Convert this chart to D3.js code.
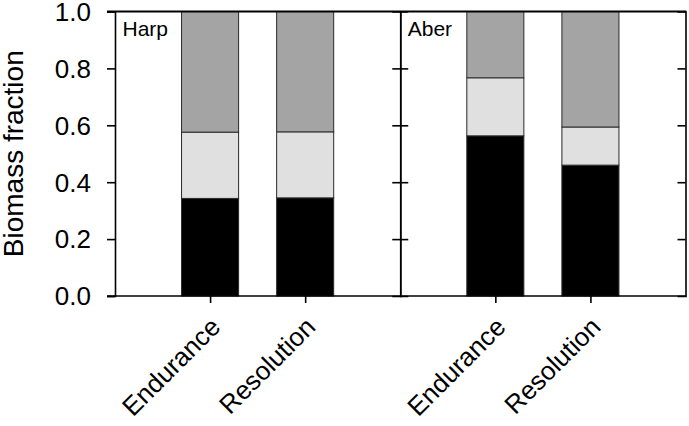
<!DOCTYPE html>
<html><head><meta charset="utf-8">
<script src="https://cdn.jsdelivr.net/npm/d3@7"></script>
<style>body{margin:0;background:#fff}svg{display:block}text{font-family:"Liberation Sans",Arial,sans-serif;fill:#000}</style>
</head><body><svg id="c" width="689" height="426"></svg>
<script>
const sites = ["Harp", "Aber"];
const treatments = ["Endurance", "Resolution"];
const components = ["black", "light", "grey"];
// fractions per bar: Harp-Endurance, Harp-Resolution, Aber-Endurance, Aber-Resolution
const blackFraction = [0.343, 0.345, 0.563, 0.460];
const lightFraction = [0.233, 0.232, 0.204, 0.134];
const greyFraction  = [0.424, 0.423, 0.233, 0.406];
const yTicks = [0, 0.2, 0.4, 0.6, 0.8, 1.0];
const colors = {black: "#000000", light: "#e0e0e0", grey: "#a4a4a4"};

const rows = [];
sites.forEach((s, i) => treatments.forEach((t, j) => {
  const k = i * treatments.length + j;
  rows.push({site: s, treatment: t, black: blackFraction[k], light: lightFraction[k], grey: greyFraction[k]});
}));

const svg = d3.select("#c");
const mLeft = 115, mRight = 685.5, mTop = 11.5, mBottom = 296;
const y = d3.scaleLinear().domain([0, 1]).range([mBottom, mTop]);
const xSite = d3.scaleBand().domain(sites).range([mLeft, mRight]);
const xTreat = d3.scalePoint().domain(treatments).range([0, xSite.bandwidth()]).padding(1);
const barW = xTreat.step() * 0.6;

const stack = d3.stack().keys(components)(rows);
const g = svg.append("g");
stack.forEach(layer => {
  g.selectAll(null).data(layer).enter().append("rect")
    .attr("x", d => xSite(d.data.site) + xTreat(d.data.treatment) - barW / 2)
    .attr("y", d => y(d[1]))
    .attr("width", barW)
    .attr("height", d => y(d[0]) - y(d[1]))
    .attr("fill", colors[layer.key])
    .attr("stroke", "#2a2a2a").attr("stroke-width", 1);
});

// left axis
const yAxisL = svg.append("g").attr("transform", `translate(${mLeft},0)`)
  .call(d3.axisLeft(y).tickValues(yTicks).tickFormat(d3.format(".1f")).tickSize(8).tickPadding(16));
yAxisL.selectAll("text").style("font-size", "26px").attr("dy", "0.34em");
// middle divider (ticks both sides)
sites.slice(1).forEach(s => {
  const xm = xSite(s);
  svg.append("g").attr("transform", `translate(${xm},0)`).call(d3.axisLeft(y).tickValues(yTicks.slice(1,-1)).tickFormat("").tickSize(8));
  svg.append("g").attr("transform", `translate(${xm},0)`).call(d3.axisRight(y).tickValues(yTicks.slice(1,-1)).tickFormat("").tickSize(8));
});
// right border (inward ticks)
svg.append("g").attr("transform", `translate(${mRight},0)`)
  .call(d3.axisLeft(y).tickValues(yTicks.slice(1,-1)).tickFormat("").tickSize(8));
svg.selectAll(".domain").attr("stroke-width", 1.6);
svg.selectAll(".tick line").attr("stroke-width", 1.6);

// top & bottom lines
svg.append("line").attr("x1", mLeft - 8).attr("x2", mRight + 0.8).attr("y1", mTop).attr("y2", mTop).attr("stroke", "#000").attr("stroke-width", 2.2);
svg.append("line").attr("x1", mLeft - 8).attr("x2", mRight + 0.8).attr("y1", mBottom).attr("y2", mBottom).attr("stroke", "#000").attr("stroke-width", 1.6);

// bottom ticks and labels
sites.forEach(s => {
  const gx = svg.append("g").attr("transform", `translate(${xSite(s)},${mBottom})`);
  const ax = d3.axisBottom(d3.scalePoint().domain(treatments).range([0, xSite.bandwidth()]).padding(1)).tickSize(7).tickPadding(6);
  gx.call(ax);
  gx.select(".domain").remove();
  gx.selectAll(".tick line").attr("stroke-width", 1.6);
  gx.selectAll("text").style("font-size", "26px").attr("text-anchor", "end")
    .attr("dy", "0").attr("x", -15).attr("y", 31).attr("transform", "rotate(-45)");
});

// panel labels
sites.forEach(s => {
  svg.append("text").attr("x", xSite(s) + 7.5).attr("y", 36).style("font-size", "21px").text(s);
});

// y axis title
svg.append("text").attr("transform", `translate(23,${(mTop + mBottom) / 2}) rotate(-90)`)
  .attr("text-anchor", "middle").style("font-size", "28px").text("Biomass fraction");
</script></body></html>
